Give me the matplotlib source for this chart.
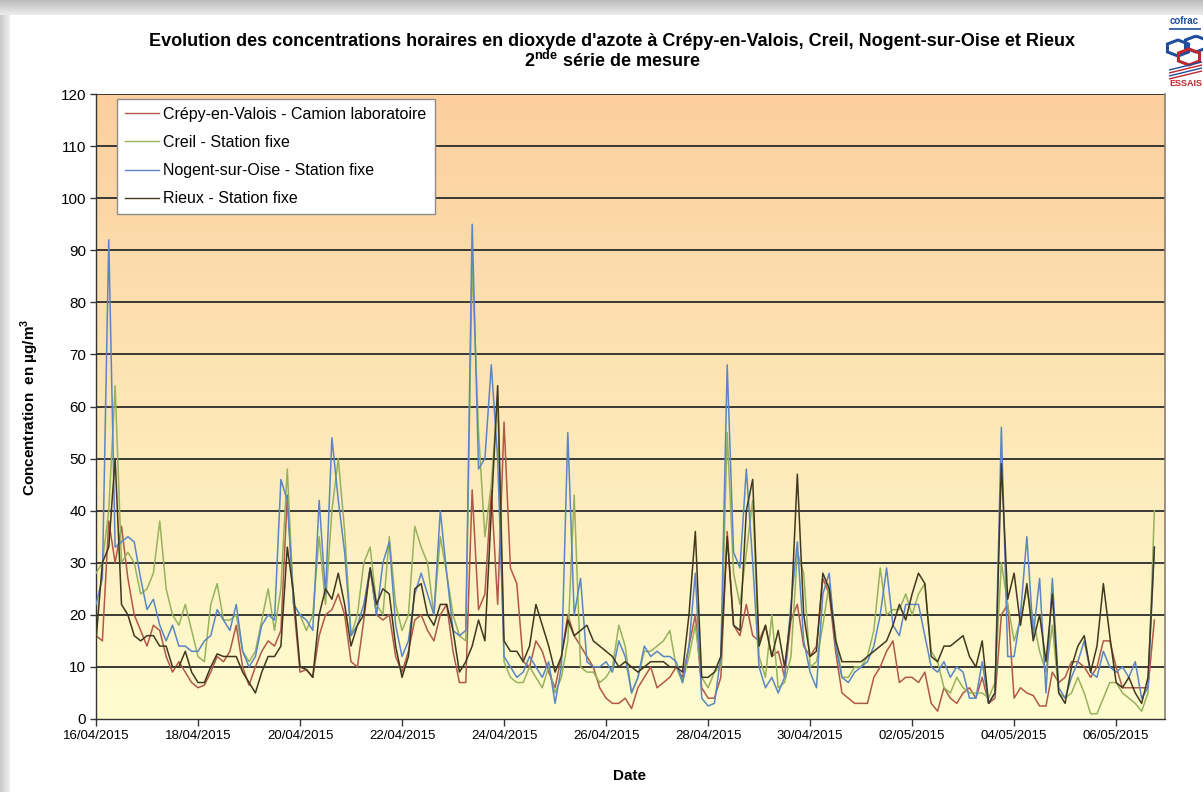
import numpy as np
import pandas as pd
import matplotlib
matplotlib.use("Agg")
import matplotlib.pyplot as plt
from matplotlib.patches import RegularPolygon, Polygon

# ---------------- data (3-hourly readings from 16/04/2015 00:00) ----------------
start_time = "2015-04-16 00:00"
step = "3h"

crepy = [
    16, 15, 38, 30, 37, 27, 20, 17,
    14, 18, 17, 12, 9, 11, 9, 7,
    6, 6.5, 9, 12, 11, 13, 18, 10,
    6.5, 10, 13, 15, 14, 17, 43, 22,
    9, 9.5, 8, 16, 20, 21, 24, 20,
    11, 10, 19, 29, 20, 19, 20, 12,
    9, 13, 19, 20, 17, 15, 20, 22,
    13, 7, 7, 44, 21, 24, 44, 22,
    57, 29, 26, 11, 10, 15, 13, 9,
    6, 12, 20, 16, 14, 12, 10, 6,
    4, 3, 3, 4, 2, 6, 8, 10,
    6, 7, 8, 10, 8, 14, 20, 6,
    4, 4, 8, 36, 18, 16, 22, 16,
    15, 18, 12, 13, 8, 19, 22, 14,
    12, 14, 27, 24, 13, 5, 4, 3,
    3, 3, 8, 10, 13, 15, 7, 8,
    8, 7, 9, 3, 1.5, 6, 4, 3,
    5, 6, 4, 8, 3, 4, 20, 22,
    4, 6, 5, 4.5, 2.5, 2.5, 9, 7,
    8, 11, 11, 10, 8, 10, 15, 15,
    10, 6, 6, 6, 6, 6, 19,
]

creil = [
    28, 30, 40, 64, 30, 32, 30, 24,
    25, 28, 38, 25, 20, 18, 22, 17,
    12, 11, 22, 26, 19, 19, 20, 13,
    11, 13, 19, 25, 17, 25, 48, 22,
    20, 17, 20, 35, 22, 40, 50, 36,
    16, 20, 30, 33, 22, 20, 35, 22,
    17, 20, 37, 33, 30, 20, 35, 28,
    20, 16, 15, 88, 55, 35, 45, 62,
    11, 8, 7, 7, 10, 8, 6, 10,
    5, 8, 15, 43, 10, 9, 9, 7,
    8, 10, 18, 14, 5, 8, 13, 13,
    14, 15, 17, 10, 7, 12, 18, 8,
    6, 9, 10, 55, 28, 22, 32, 42,
    12, 8, 20, 6, 7, 12, 32, 28,
    10, 11, 18, 26, 16, 8, 8, 10,
    10, 12, 17, 29, 20, 21, 21, 24,
    20, 24, 26, 13, 11, 6, 5, 8,
    6, 5, 5, 5, 4, 7, 30, 22,
    15, 19, 25, 19, 13, 9, 18, 5,
    4, 5, 8, 5, 1, 1, 4, 7,
    7, 5, 4, 3, 1.5, 5, 40,
]

nogent = [
    22, 27, 92, 33, 34, 35, 34, 27,
    21, 23, 18, 15, 18, 14, 14, 13,
    13, 15, 16, 21, 19, 17, 22, 13,
    10, 12, 18, 20, 19, 46, 42, 22,
    20, 19, 17, 42, 24, 54, 42, 32,
    16, 18, 22, 29, 20, 30, 34, 18,
    12, 15, 24, 28, 24, 20, 40, 28,
    17, 16, 17, 95, 48, 50, 68, 50,
    12, 10, 8, 9, 12, 10, 8, 11,
    3, 10, 55, 20, 27, 11, 10, 10,
    11, 9, 15, 12, 5, 8, 14, 12,
    13, 12, 12, 11, 7, 14, 28, 4,
    2.5, 3, 12, 68, 32, 29, 48, 30,
    10, 6, 8, 5, 8, 22, 34, 15,
    9, 6, 24, 28, 14, 8, 7, 9,
    10, 11, 14, 20, 29, 18, 16, 22,
    22, 22, 16, 10, 9, 11, 8, 10,
    9, 4, 4, 11, 3, 5, 56, 12,
    12, 20, 35, 16, 27, 5, 27, 6,
    4, 8, 11, 15, 9, 8, 13, 10,
    9, 10, 8, 11, 4, 6, 33,
]

rieux = [
    15, 30, 33, 50, 22, 20, 16, 15,
    16, 16, 14, 14, 10, 10, 13, 9,
    7, 7, 10, 12.5, 12, 12, 12, 9,
    7, 5, 9, 12, 12, 14, 33, 24,
    10, 9.5, 8, 20, 25, 23, 28, 22,
    14, 18, 20, 29, 22, 25, 24, 14,
    8, 12, 25, 26, 20, 18, 22, 22,
    17, 9, 11, 14, 19, 15, 40, 64,
    15, 13, 13, 11, 14, 22, 18, 14,
    9, 12, 19, 16, 17, 18, 15, 14,
    13, 12, 10, 11, 10, 9, 10, 11,
    11, 11, 10, 10, 9, 20, 36, 8,
    8, 9, 12, 35, 18, 17, 40, 46,
    14, 18, 12, 17, 10, 20, 47, 20,
    12, 13, 28, 25, 15, 11, 11, 11,
    11, 12, 13, 14, 15, 18, 22, 19,
    24, 28, 26, 12, 11, 14, 14, 15,
    16, 12, 10, 15, 3, 5, 49, 23,
    28, 18, 26, 15, 20, 11, 24, 5,
    3, 10, 14, 16, 9, 14, 26, 16,
    7, 6, 8, 5, 3, 8, 33,
]

series_labels = [
    "Crépy-en-Valois - Camion laboratoire",
    "Creil - Station fixe",
    "Nogent-sur-Oise - Station fixe",
    "Rieux - Station fixe",
]
series_colors = ["#B0584A", "#97B25C", "#5A86C6", "#40381F"]

tick_dates = ["16/04/2015", "18/04/2015", "20/04/2015", "22/04/2015", "24/04/2015",
              "26/04/2015", "28/04/2015", "30/04/2015", "02/05/2015", "04/05/2015",
              "06/05/2015"]
y_ticks = list(range(0, 121, 10))

title_line1 = "Evolution des concentrations horaires en dioxyde d'azote à Crépy-en-Valois, Creil, Nogent-sur-Oise et Rieux"
title_line2 = r"2$^{\mathregular{nde}}$ série de mesure"
ylabel = r"Concentration  en µg/m$^{\mathregular{3}}$"
xlabel = "Date"

# ---------------- figure ----------------
W, H = 1203, 792
fig = plt.figure(figsize=(W / 100, H / 100), dpi=100)
narrow = ["Liberation Sans Narrow", "Liberation Sans", "DejaVu Sans"]
regular = ["Liberation Sans", "DejaVu Sans"]

# page background with soft shadow at top/left
bg = np.ones((H, W, 3))
top = 15
for r in range(top):
    v = 0.74 + 0.2 * r / top
    bg[r, :, :] = v
for c in range(10):
    v = 0.80 + 0.15 * c / 10
    bg[top:, c, :] = np.minimum(bg[top:, c, :], v)
bgax = fig.add_axes([0, 0, 1, 1], zorder=-10)
bgax.imshow(bg, aspect="auto", extent=[0, 1, 0, 1])
bgax.set_axis_off()

x0, x1, y0, y1 = 96, 1165, 94, 719
ax = fig.add_axes([x0 / W, 1 - y1 / H, (x1 - x0) / W, (y1 - y0) / H])

# gradient plot area
top_c = np.array([252, 207, 157]) / 255
bot_c = np.array([255, 253, 208]) / 255
frac = np.linspace(0, 1, 256)[:, None]
grad = top_c[None, :] * (1 - frac) + bot_c[None, :] * frac
grad = np.repeat(grad[:, None, :], 2, axis=1)
ax.imshow(grad, extent=[0, 1, 0, 1], transform=ax.transAxes, aspect="auto", zorder=0)

times = pd.date_range(start_time, periods=len(crepy), freq=step)
for vals, lab, col in zip([crepy, creil, nogent, rieux], series_labels, series_colors):
    ax.plot(times, vals, color=col, lw=1.1, label=lab, zorder=3)

ax.set_ylim(0, 120)
ax.set_xlim(pd.Timestamp("2015-04-16 00:00"), pd.Timestamp("2015-05-06 23:00"))
ax.set_yticks(y_ticks)
ax.set_yticklabels([str(v) for v in y_ticks], fontfamily=narrow, fontsize=11)
tick_pos = [pd.to_datetime(d, format="%d/%m/%Y") for d in tick_dates]
ax.set_xticks(tick_pos)
ax.set_xticklabels(tick_dates, fontfamily=narrow, fontsize=9.5)
ax.tick_params(axis="y", direction="out", length=4, width=1, color="#333333", pad=3)
ax.tick_params(axis="x", direction="out", length=5, width=1, color="#333333", pad=3)

for v in y_ticks[1:]:
    ax.axhline(v, color="#2b2b2b", lw=1.3, zorder=1)

for s in ["left", "bottom"]:
    ax.spines[s].set_color("#333333")
    ax.spines[s].set_linewidth(1.0)
ax.spines["top"].set_visible(False)
ax.spines["right"].set_color("#8a7f7a")
ax.spines["right"].set_linewidth(1.2)

leg = ax.legend(loc="upper left", bbox_to_anchor=((117 - x0) / (x1 - x0), (y1 - 99) / (y1 - y0)),
                borderaxespad=0, frameon=True, fancybox=False, framealpha=1,
                edgecolor="#8c8c8c", facecolor="white", prop={"family": regular, "size": 11.5},
                handlelength=2.1, handletextpad=0.3, labelspacing=0.82, borderpad=0.5)
leg.get_frame().set_linewidth(1.0)
leg.set_zorder(5)
for line in leg.get_lines():
    line.set_linewidth(1.0)

fig.text(612 / W, 1 - 42 / H, title_line1, ha="center", va="center", fontsize=13,
         fontweight="bold", family=narrow)
fig.text(612 / W, 1 - 61 / H, title_line2, ha="center", va="center", fontsize=13,
         fontweight="bold", family=narrow)
fig.text(30 / W, 1 - 407 / H, ylabel, ha="center", va="center", rotation=90, fontsize=11,
         fontweight="bold", family=narrow)
fig.text(630 / W, 1 - 776 / H, xlabel, ha="center", va="center", fontsize=11,
         fontweight="bold", family=narrow)

# small accreditation logo at top right
fig.text(1170 / W, 1 - 21 / H, "cofrac", ha="left", va="center", fontsize=7,
         fontweight="bold", color="#1f4e9c", family=narrow)
fig.text(1169 / W, 1 - 84 / H, "ESSAIS", ha="left", va="center", fontsize=6.5,
         fontweight="bold", color="#c0272d", family=narrow)
fig.add_artist(Polygon([[1169 / W, 1 - 29 / H], [1201 / W, 1 - 29 / H]], closed=False,
                       transform=fig.transFigure, color="#1f4e9c", lw=1.2))
for cx, cy, col in [(1178, 48, "#1f4e9c"), (1196, 44, "#1f4e9c"), (1189, 57, "#c0272d")]:
    fig.add_artist(RegularPolygon((cx / W, 1 - cy / H), numVertices=6, radius=8 / H,
                                  transform=fig.transFigure, fill=False, ec=col, lw=2.2))
for k, col in enumerate(["#1f4e9c", "#c0272d", "#1f4e9c", "#c0272d"]):
    yy = 66 + 3 * k
    fig.add_artist(Polygon([[1169 / W, 1 - (yy + 4) / H], [1202 / W, 1 - (yy - 4) / H]],
                           closed=False, transform=fig.transFigure, color=col, lw=1.0))

fig.savefig("out.png", dpi=100)
